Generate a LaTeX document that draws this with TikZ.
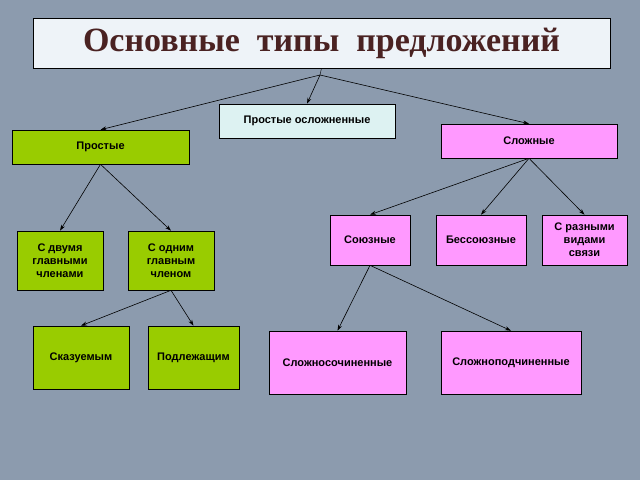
\documentclass[tikz,border=0pt]{standalone}
\usepackage{fontspec}
\setmainfont{Liberation Sans}
\newfontfamily\titlefont{Liberation Serif}
\usetikzlibrary{arrows.meta}
\definecolor{bgcol}{HTML}{8C9BAE}
\definecolor{titlebg}{HTML}{EEF3F8}
\definecolor{titletext}{HTML}{4A2222}
\definecolor{greenbox}{HTML}{99CC00}
\definecolor{pinkbox}{HTML}{FF99FF}
\definecolor{cyanbox}{HTML}{DDF2F2}
\tikzset{
  box/.style={draw=black,line width=0.6pt,inner sep=1pt,align=center,
    font=\bfseries\fontsize{11}{13}\selectfont},
  greenb/.style={box,fill=greenbox},
  pinkb/.style={box,fill=pinkbox},
  arr/.style={-{Stealth[length=6pt,width=4pt]},line width=0.6pt}
}
\begin{document}
\begin{tikzpicture}[x=1pt,y=-1pt]
			% Hintergrund
			\fill[bgcol] (0,0) rectangle (640,480);
			\useasboundingbox (0,0) rectangle (640,480);
			% Titel
			\node[draw=black,fill=titlebg,minimum width=577pt,minimum height=50pt,
			  font=\titlefont\bfseries\fontsize{34}{38}\selectfont,text=titletext] (title) at (321.5,43) {Основные\ \ типы\ \ предложений};
			\coordinate (fork) at (320,75);
			% Erste Ebene
			\node[greenb,minimum width=177pt,minimum height=34pt] (prost) at (100.5,147) {Простые};
			\node[box,fill=cyanbox,minimum width=176pt,minimum height=34pt] (osl) at (307,121) {Простые осложненные};
			\node[pinkb,minimum width=176pt,minimum height=34pt] (slozh) at (529,141) {Сложные};
			% Zweite Ebene
			\node[greenb,minimum width=86pt,minimum height=59pt] (dva) at (60,260.5) {С двумя\\главными\\членами};
			\node[greenb,minimum width=86pt,minimum height=59pt] (odin) at (171,260.5) {С одним\\главным\\членом};
			\node[pinkb,minimum width=80pt,minimum height=50pt] (soyuz) at (370,240) {Союзные};
			\node[pinkb,minimum width=90pt,minimum height=50pt] (bessoyuz) at (481,240) {Бессоюзные};
			\node[pinkb,minimum width=85pt,minimum height=50pt] (razn) at (584.5,240) {С разными\\видами\\связи};
			% Dritte Ebene
			\node[greenb,minimum width=96pt,minimum height=63pt] (skaz) at (81,357.5) {Сказуемым};
			\node[greenb,minimum width=91pt,minimum height=63pt] (podl) at (193.5,357.5) {Подлежащим};
			\node[pinkb,minimum width=137pt,minimum height=63pt] (sochin) at (337.5,362.5) {Сложносочиненные};
			\node[pinkb,minimum width=140pt,minimum height=63pt] (podchin) at (511,362.5) {Сложноподчиненные};
			% Pfeile
			\draw (title.south) -- (fork);
			\foreach \t in {prost,osl,slozh}
				\draw[arr] (fork) -- (\t.north);
			\foreach \t in {dva,odin}
				\draw[arr] (prost.south) -- (\t.north);
			\foreach \t in {skaz,podl}
				\draw[arr] (odin.south) -- (\t.north);
			\foreach \t in {soyuz,bessoyuz,razn}
				\draw[arr] (slozh.south) -- (\t.north);
			\foreach \t in {sochin,podchin}
				\draw[arr] (soyuz.south) -- (\t.north);
		\end{tikzpicture}
\end{document}
